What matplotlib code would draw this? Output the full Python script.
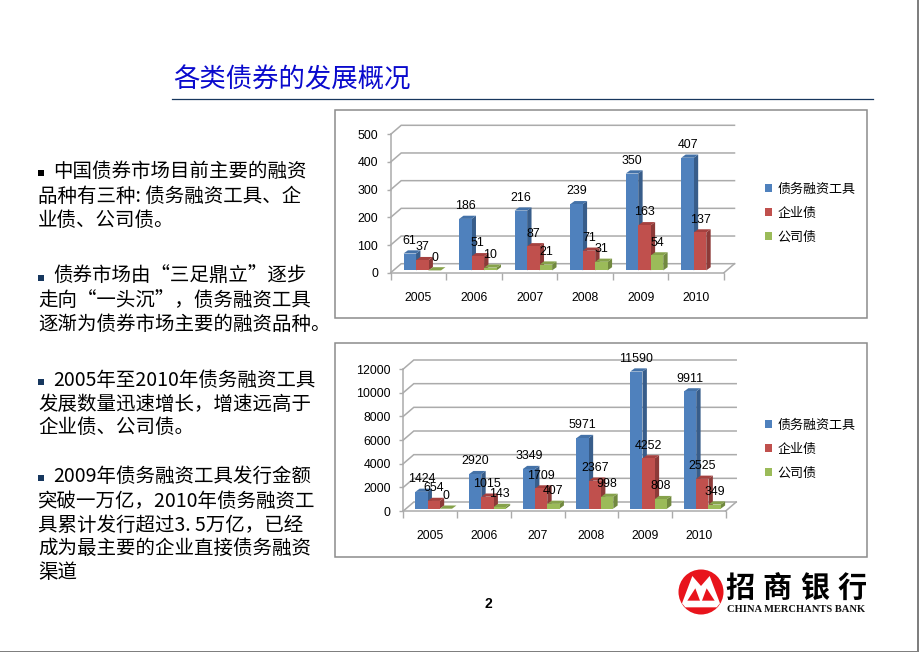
import numpy as np
import matplotlib
matplotlib.use("Agg")
import matplotlib.pyplot as plt
from matplotlib.patches import Rectangle, Circle, Polygon, Patch

plt.rcParams['font.family'] = ['Noto Sans CJK SC', 'DejaVu Sans']

W, H = 920, 652
series_names = ['债务融资工具', '企业债', '公司债']

years_top = ['2005', '2006', '2007', '2008', '2009', '2010']
tools_top = [61, 186, 216, 239, 350, 407]
enterprise_top = [37, 51, 87, 71, 163, 137]
company_top = [0, 10, 21, 31, 54, np.nan]
ticks_top = [0, 100, 200, 300, 400, 500]

years_bottom = ['2005', '2006', '207', '2008', '2009', '2010']
tools_bottom = [1424, 2920, 3349, 5971, 11590, 9911]
enterprise_bottom = [654, 1015, 1709, 2367, 4252, 2525]
company_bottom = [0, 143, 407, 998, 808, 349]
ticks_bottom = [0, 2000, 4000, 6000, 8000, 10000, 12000]

para_lines = [
    (53, 171.5, '■', '中国债券市场目前主要的融资'),
    (38, 196.5, None, '品种有三种: 债务融资工具、企'),
    (38, 220.5, None, '业债、公司债。'),
    (53, 276.5, '■', '债券市场由“三足鼎立”逐步'),
    (38, 300.5, None, '走向“一头沉”，债务融资工具'),
    (38, 324.5, None, '逐渐为债券市场主要的融资品种。'),
    (53, 380, '■', '2005年至2010年债务融资工具'),
    (38, 404, None, '发展数量迅速增长，增速远高于'),
    (38, 427.5, None, '企业债、公司债。'),
    (53, 476.5, '■', '2009年债务融资工具发行金额'),
    (38, 501, None, '突破一万亿，2010年债务融资工'),
    (38, 525, None, '具累计发行超过3. 5万亿，已经'),
    (38, 548.5, None, '成为最主要的企业直接债务融资'),
    (38, 572.5, None, '渠道'),
]

FACE = ['#4F81BD', '#C0504D', '#9BBB59']
SIDE = ['#385D8A', '#8C3A38', '#71893F']
TOP = ['#4472A8', '#A5413F', '#86A24B']
GRID = '#ABABAB'
LATIN = 'Liberation Sans'

fig = plt.figure(figsize=(W / 100, H / 100), dpi=100, facecolor='white')
bg = fig.add_axes([0, 0, 1, 1], zorder=0)
bg.set_xlim(0, W)
bg.set_ylim(H, 0)
bg.axis('off')

# slide frame edges
bg.add_patch(Rectangle((917.5, 0), 2.5, H, color='#7F7F7F', lw=0))
bg.add_patch(Rectangle((0, 650.6), W, 1.4, color='#7F7F7F', lw=0))

# title
bg.text(173, 79.5, '各类债券的发展概况', fontsize=19, color='#0A0ACD', va='center', ha='left')
bg.plot([172, 873], [98.5, 98.5], color='#17375E', lw=0.9)

# body text
for i, (x, y, bullet, s) in enumerate(para_lines):
    bg.text(x, y, s, fontsize=14, color='black', va='center', ha='left')
    if bullet:
        c = 'black' if i == 0 else '#17375E'
        bg.add_patch(Rectangle((38.5, y - 1.5), 6, 6, color=c, lw=0))

# page number
bg.text(488.5, 604.5, '2', fontsize=10, fontweight='bold', family=LATIN, ha='center', va='center')

# chart frames
for top, bottom in [(109.5, 317.5), (342.5, 556.5)]:
    bg.add_patch(Rectangle((335, top), 532, bottom - top, fc='white', ec='#8C8C8C', lw=1.1))


def chart(box, years, s1, s2, s3, ticks, legend_center, group_shift, bar_px):
    left, right, y_top, y_bot = box
    ax = fig.add_axes([left / W, 1 - y_bot / H, (right - left) / W, (y_bot - y_top) / H], zorder=2)
    ax.patch.set_alpha(0)
    ymax = ticks[-1]
    ax.set_xlim(-0.5, 5.5)
    ax.set_ylim(0, ymax)
    px_x = 6 / (right - left)
    px_y = ymax / (y_bot - y_top)

    for s in ['top', 'right']:
        ax.spines[s].set_visible(False)
    for s in ['left', 'bottom']:
        ax.spines[s].set_color(GRID)
        ax.spines[s].set_linewidth(1.1)
    ax.set_yticks(ticks)
    ax.set_yticklabels([str(t) for t in ticks], fontsize=8.9, family=LATIN)
    ax.set_xticks(np.arange(-0.5, 6, 1))
    ax.set_xticklabels([])
    ax.set_xticks(np.arange(6), minor=True)
    ax.set_xticklabels(years, minor=True, fontsize=8.8, family=LATIN)
    ax.tick_params(axis='y', length=3, color=GRID, width=1.0, pad=6)
    ax.tick_params(axis='x', which='major', length=5, color=GRID, width=1.0)
    ax.tick_params(axis='x', which='minor', length=0, pad=14)

    # wall grid and floor, pushed back by the chart depth
    dx, dy = 10.5 * px_x, 9 * px_y
    for t in ticks:
        ax.plot([-0.5, -0.5 + dx, 5.5 + dx], [t, t + dy, t + dy], color=GRID, lw=1.1,
                clip_on=False, zorder=1, solid_joinstyle='miter')
    ax.plot([5.5, 5.5 + dx], [0, dy], color=GRID, lw=1.1, clip_on=False, zorder=1)

    # bars with extruded sides
    base = 2.3 * px_y
    bw = bar_px * px_x
    sdx, sdy = 4.4 * px_x, 3.2 * px_y
    x = np.arange(6) + group_shift * px_x
    z = 3
    for k, vals in enumerate([s1, s2, s3]):
        for xi, v in zip(x, vals):
            if np.isnan(v):
                continue
            xl = xi + (k - 1.5) * bw
            xr = xl + bw
            t = base + v
            ax.fill([xr, xr + sdx, xr + sdx, xr], [base, base + sdy, t + sdy, t],
                    color=SIDE[k], lw=0, clip_on=False, zorder=z)
            ax.fill([xl, xr, xr + sdx, xl + sdx], [t, t, t + sdy, t + sdy],
                    color=TOP[k], lw=0, clip_on=False, zorder=z)
            ax.bar(xl + bw / 2, v, width=bw, bottom=base, color=FACE[k], lw=0,
                   clip_on=False, zorder=z + 0.5)
            ax.text(xl + bw / 2, t + 12.8 * px_y, f'{int(v)}', fontsize=8.9, family=LATIN,
                    ha='center', va='center', color='black', zorder=20, clip_on=False)
        z += 1

    handles = [Patch(fc=c, ec='none') for c in FACE]
    fig.legend(handles, series_names, loc='center left', frameon=False,
               bbox_to_anchor=(762 / W, 1 - legend_center / H), bbox_transform=fig.transFigure,
               fontsize=9.4, handlelength=0.58, handleheight=0.58, handletextpad=0.42,
               labelspacing=0.84, borderpad=0.2, borderaxespad=0)


chart((390.7, 724, 134.3, 272.7), years_top, tools_top, enterprise_top, company_top,
      ticks_top, 213, 3.8, 12.5)
chart((403.3, 725.7, 369, 511), years_bottom, tools_bottom, enterprise_bottom, company_bottom,
      ticks_bottom, 449, 3.5, 12.25)


# logo
def lz(pts):
    return [(620 + a / 3, 340 + b / 3) for a, b in pts]


bg.add_patch(Circle((701, 592), 22.5, color='#E8141C', lw=0, zorder=3))
bg.add_patch(Polygon(lz([(186, 790), (217, 708), (243, 738), (269, 708), (300, 790), (290, 802), (196, 802)]),
                     color='white', lw=0, zorder=4))
bg.add_patch(Polygon(lz([(202, 782), (226, 745), (240, 782)]), color='#E8141C', lw=0, zorder=5))
bg.add_patch(Polygon(lz([(246, 782), (260, 745), (284, 782)]), color='#E8141C', lw=0, zorder=5))
for cx, ch in zip([740, 777, 815, 852], '招商银行'):
    bg.text(cx, 588, ch, fontsize=21, fontweight='black', color='black', ha='center', va='center')
bg.text(796.5, 609.5, 'CHINA MERCHANTS BANK', fontsize=7.6, fontweight='bold',
        family='Liberation Serif', color='#111111', ha='center', va='center')

fig.savefig('out.png', dpi=100, facecolor='white')
